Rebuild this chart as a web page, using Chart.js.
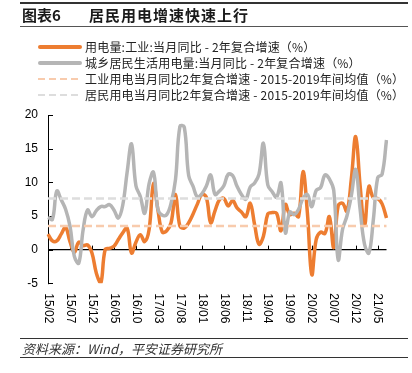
<!DOCTYPE html>
<html>
<head>
<meta charset="utf-8">
<script src="https://cdn.jsdelivr.net/npm/chart.js@4"></script>
<style>
  body { margin: 0; width: 412px; height: 373px; background: #fff; position: relative; overflow: hidden;
         font-family: "Noto Sans CJK SC", "Liberation Sans", sans-serif; color: #222; }
  #chart { position: absolute; left: 0; top: 0; }
  .rule { position: absolute; left: 20px; width: 388px; }
  .title { position: absolute; top: 5px; font-size: 15px; font-weight: bold; color: #1a1a1a; line-height: 20px; }
  .leg { position: absolute; left: 38px; height: 16px; font-size: 12px; line-height: 16px; white-space: nowrap; }
  .leg .sw { position: absolute; left: 0; width: 44px; }
  .leg .tx { position: absolute; left: 47px; top: 0; letter-spacing: 0.2px; }
  .src { position: absolute; left: 22px; top: 340px; font-size: 13px; font-style: italic; color: #333;
         line-height: 17px; }
</style>
</head>
<body>
<canvas id="chart" width="412" height="373"></canvas>

<div class="rule" style="top:2px;height:2px;background:#333"></div>
<div class="title" style="left:22px">图表6</div>
<div class="title" style="left:89px;letter-spacing:1px">居民用电增速快速上行</div>
<div class="rule" style="top:26px;height:1px;background:#555"></div>

<div class="leg" style="top:39px"><div class="sw" style="top:6px;height:4px;background:#ED7D31;border-radius:2px"></div><span class="tx">用电量:工业:当月同比 - 2年复合增速（%）</span></div>
<div class="leg" style="top:55px"><div class="sw" style="top:6px;height:4px;background:#B5B5B5;border-radius:2px"></div><span class="tx">城乡居民生活用电量:当月同比 - 2年复合增速（%）</span></div>
<div class="leg" style="top:71px"><div class="sw" style="top:7px;height:2px;background:repeating-linear-gradient(to right,#F8CBAD 0 7px,transparent 7px 11px)"></div><span class="tx">工业用电当月同比2年复合增速 - 2015-2019年间均值（%）</span></div>
<div class="leg" style="top:87px"><div class="sw" style="top:7px;height:2px;background:repeating-linear-gradient(to right,#DDDDDD 0 7px,transparent 7px 11px)"></div><span class="tx">居民用电当月同比2年复合增速 - 2015-2019年间均值（%）</span></div>

<div class="rule" style="top:338px;height:1px;background:#333"></div>
<div class="src">资料来源：Wind，平安证券研究所</div>
<div class="rule" style="top:357px;height:1px;background:#333"></div>

<script>
// months, 15/02 .. 21/07
const months = [
  '15/02','15/03','15/04','15/05','15/06','15/07','15/08','15/09','15/10','15/11','15/12',
  '16/01','16/02','16/03','16/04','16/05','16/06','16/07','16/08','16/09','16/10','16/11','16/12',
  '17/01','17/02','17/03','17/04','17/05','17/06','17/07','17/08','17/09','17/10','17/11','17/12',
  '18/01','18/02','18/03','18/04','18/05','18/06','18/07','18/08','18/09','18/10','18/11','18/12',
  '19/01','19/02','19/03','19/04','19/05','19/06','19/07','19/08','19/09','19/10','19/11','19/12',
  '20/01','20/02','20/03','20/04','20/05','20/06','20/07','20/08','20/09','20/10','20/11','20/12',
  '21/01','21/02','21/03','21/04','21/05','21/06','21/07'
];
const tickLabels = ['15/02','15/07','15/12','16/05','16/10','17/03','17/08','18/01',
                    '18/06','18/11','19/04','19/09','20/02','20/07','20/12','21/05'];

// 用电量:工业:当月同比 - 2年复合增速
const industry = [
  2.3, 1.3, 1.3, 2.3, 3.3, 1.2, -0.4, 1.1, 0.6, 0.7,
  -0.5, -3.5, -5.0, 0.0, 0.2, 0.5, 1.5, 2.5, 3.2, -0.5,
  1.1, 2.2, 1.2, 3.0, 9.8, 5.9, 2.6, 2.8, 4.0, 8.2,
  3.5, 3.2, 4.0, 5.3, 6.8, 8.2, 7.8, 4.0, 5.8, 7.4,
  7.6, 6.5, 7.3, 6.2, 5.6, 4.9, 6.9, 3.7, 0.8, 2.0,
  5.3, 5.5, 5.4, 2.8, 6.7, 5.2, 5.4, 4.9, 11.6, 5.5,
  -3.7, 1.5, 2.6, 2.4, 4.9, 0.3, 6.5, 6.9, 5.7, 10.5,
  16.8, 9.5, 3.6, 9.4, 7.7, 7.6, 6.8, 4.7
];
// 城乡居民生活用电量:当月同比 - 2年复合增速
const resident = [
  4.8, 4.5, 8.7, 7.4, 6.0, 3.5, -1.0, -2.0, 3.0, 5.9,
  4.9, 5.8, 6.4, 6.4, 6.7, 5.9, 4.7, 6.6, 11.5, 15.7,
  9.5, 7.9, 5.4, 9.8, 11.5, 6.0, 5.1, 5.2, 6.9, 10.4,
  18.3, 18.2, 11.0, 9.4, 7.8, 8.3, 9.4, 11.1, 8.2, 8.7,
  9.5, 11.2, 11.0, 9.4, 8.2, 7.5, 9.3, 9.9, 11.2, 15.8,
  9.6, 8.6, 7.8, 9.9, 2.5, 5.6, 5.2, 6.0, 7.6, 8.2,
  6.4, 8.8, 9.2, 11.1, 10.5, 8.8, -1.5, 3.0, 5.0, 8.0,
  11.9, 6.0, 0.8, -0.5, 4.4, 10.7, 11.2, 16.3
];
// 2015-2019 averages
const industryAvg = 3.5;
const residentAvg = 7.6;

const yMin = -5, yMax = 20, yStep = 5;

const axisExtras = {
  id: 'axisExtras',
  beforeDatasetsDraw(chart) {
    const ctx = chart.ctx, area = chart.chartArea;
    const xs = chart.scales.x, ys = chart.scales.y;
    const zeroY = ys.getPixelForValue(0);
    ctx.save();
    ctx.strokeStyle = '#000';
    ctx.lineWidth = 1;
    // inward ticks on the y axis
    ys.ticks.forEach(t => {
      const y = Math.round(ys.getPixelForValue(t.value)) + 0.5;
      ctx.beginPath(); ctx.moveTo(area.left, y); ctx.lineTo(area.left + 5, y); ctx.stroke();
    });
    // small ticks on the zero line
    months.forEach((m, i) => {
      if (!tickLabels.includes(m)) return;
      const x = Math.round(xs.getPixelForValue(i)) + 0.5;
      ctx.beginPath(); ctx.moveTo(x, zeroY - 4); ctx.lineTo(x, zeroY); ctx.stroke();
    });
    ctx.restore();
  },
  afterDraw(chart) {
    const ctx = chart.ctx, area = chart.chartArea, xs = chart.scales.x;
    ctx.save();
    ctx.font = '12px "Liberation Sans", Arial, sans-serif';
    ctx.fillStyle = '#000';
    ctx.textAlign = 'left';
    ctx.textBaseline = 'middle';
    months.forEach((m, i) => {
      if (!tickLabels.includes(m)) return;
      ctx.save();
      ctx.translate(xs.getPixelForValue(i), area.bottom + 10);
      ctx.rotate(Math.PI / 2);
      ctx.fillText(m, 0, 0);
      ctx.restore();
    });
    ctx.restore();
  }
};

new Chart(document.getElementById('chart'), {
  type: 'line',
  data: {
    labels: months,
    datasets: [
      { label: '用电量:工业:当月同比 - 2年复合增速（%）', data: industry,
        borderColor: '#ED7D31', borderWidth: 3.5, pointRadius: 0, tension: 0.4, order: 4 },
      { label: '城乡居民生活用电量:当月同比 - 2年复合增速（%）', data: resident,
        borderColor: '#B5B5B5', borderWidth: 3.5, pointRadius: 0, tension: 0.4, order: 3 },
      { label: '工业用电当月同比2年复合增速 - 2015-2019年间均值（%）', data: months.map(() => industryAvg),
        borderColor: '#F8CBAD', borderWidth: 2.5, borderDash: [8, 4], pointRadius: 0, order: 2 },
      { label: '居民用电当月同比2年复合增速 - 2015-2019年间均值（%）', data: months.map(() => residentAvg),
        borderColor: '#DDDDDD', borderWidth: 2.5, borderDash: [8, 4], pointRadius: 0, order: 1 }
    ]
  },
  options: {
    responsive: false,
    animation: false,
    layout: { padding: { left: 0, right: 25.5, top: 115, bottom: 89.7 } },
    plugins: { legend: { display: false }, tooltip: { enabled: false } },
    scales: {
      x: { display: false, offset: false },
      y: {
        min: yMin, max: yMax,
        afterFit(s) { s.width = 48; },
        ticks: { stepSize: yStep, color: '#000', padding: 10,
                 font: { family: '"Liberation Sans", Arial, sans-serif', size: 12 } },
        grid: { drawTicks: false,
                color: c => (c.tick && c.tick.value === 0) ? '#000' : 'rgba(0,0,0,0)',
                lineWidth: 1.2 },
        border: { display: true, color: '#000', width: 1 }
      }
    }
  },
  plugins: [axisExtras]
});
</script>
</body>
</html>
